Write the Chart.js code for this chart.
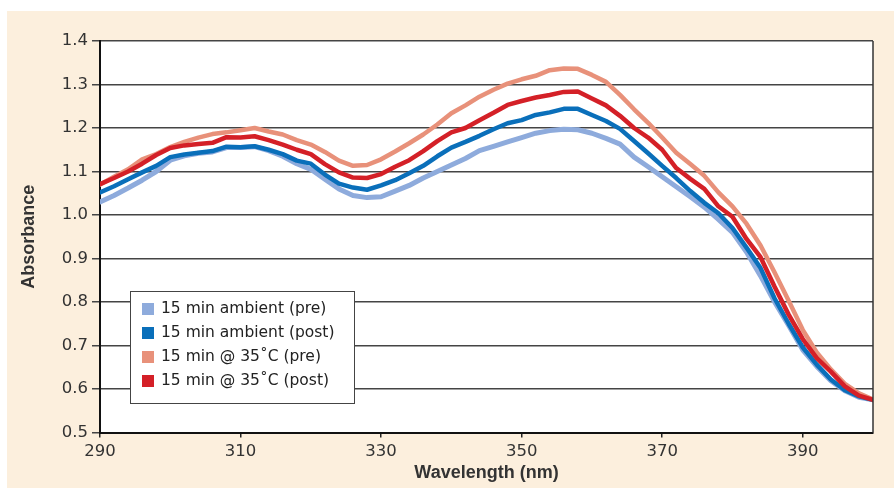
<!DOCTYPE html>
<html>
<head>
<meta charset="utf-8">
<script src="https://cdn.jsdelivr.net/npm/chart.js@4.4.1/dist/chart.umd.min.js"></script>
<style>
  html, body { margin: 0; padding: 0; background: #ffffff; }
  #wrap { width: 894px; height: 490px; }
</style>
</head>
<body>
<div id="wrap"><canvas id="absChart" width="894" height="490"></canvas></div>
<script>
// wavelength (nm) and absorbance values
const wavelengths = [290, 292, 294, 296, 298, 300, 302, 304, 306, 308, 310, 312, 314, 316, 318, 320, 322, 324, 326, 328,
    330, 332, 334, 336, 338, 340, 342, 344, 346, 348, 350, 352, 354, 356, 358, 360, 362, 364, 366, 368,
    370, 372, 374, 376, 378, 380, 382, 384, 386, 388, 390, 392, 394, 396, 398, 400];

const ambientPre = [1.030, 1.045, 1.062, 1.080, 1.100, 1.126, 1.136, 1.142, 1.145, 1.155, 1.155, 1.157, 1.148, 1.135, 1.118, 1.105, 1.082, 1.060, 1.045, 1.040,
    1.042, 1.055, 1.068, 1.085, 1.100, 1.115, 1.130, 1.148, 1.158, 1.168, 1.178, 1.188, 1.194, 1.197, 1.196, 1.188, 1.176, 1.163, 1.133, 1.111,
    1.088, 1.065, 1.042, 1.018, 0.990, 0.960, 0.915, 0.860, 0.800, 0.746, 0.690, 0.652, 0.619, 0.596, 0.581, 0.575];

const ambientPost = [1.052, 1.066, 1.082, 1.098, 1.113, 1.133, 1.139, 1.143, 1.147, 1.157, 1.156, 1.158, 1.150, 1.140, 1.125, 1.118, 1.093, 1.072, 1.063, 1.058,
    1.068, 1.080, 1.096, 1.113, 1.135, 1.155, 1.168, 1.182, 1.197, 1.211, 1.218, 1.230, 1.236, 1.244, 1.244, 1.230, 1.216, 1.198, 1.170, 1.142,
    1.113, 1.085, 1.055, 1.028, 1.004, 0.970, 0.925, 0.878, 0.808, 0.750, 0.696, 0.656, 0.622, 0.597, 0.583, 0.575];

const heatedPre = [1.070, 1.088, 1.105, 1.128, 1.140, 1.156, 1.168, 1.178, 1.186, 1.190, 1.195, 1.200, 1.192, 1.185, 1.172, 1.162, 1.145, 1.125, 1.113, 1.115,
    1.128, 1.146, 1.165, 1.185, 1.208, 1.234, 1.252, 1.272, 1.288, 1.302, 1.312, 1.320, 1.333, 1.337, 1.336, 1.322, 1.306, 1.276, 1.243, 1.212,
    1.178, 1.143, 1.117, 1.090, 1.052, 1.020, 0.980, 0.930, 0.868, 0.803, 0.736, 0.684, 0.645, 0.612, 0.590, 0.576];

const heatedPost = [1.071, 1.085, 1.100, 1.118, 1.138, 1.154, 1.160, 1.163, 1.166, 1.179, 1.178, 1.181, 1.172, 1.162, 1.150, 1.140, 1.117, 1.098, 1.086, 1.085,
    1.094, 1.111, 1.126, 1.147, 1.170, 1.190, 1.200, 1.218, 1.235, 1.253, 1.262, 1.270, 1.276, 1.283, 1.284, 1.268, 1.252, 1.228, 1.200, 1.178,
    1.150, 1.108, 1.083, 1.060, 1.020, 0.996, 0.945, 0.903, 0.835, 0.771, 0.715, 0.671, 0.640, 0.606, 0.585, 0.575];

const seriesLabels = ['15 min ambient (pre)', '15 min ambient (post)', '15 min @ 35\u02DAC (pre)', '15 min @ 35\u02DAC (post)'];
const seriesColors = ['#8eabdc', '#0a6fba', '#e8917a', '#d42027'];
const xTicks = [290, 310, 330, 350, 370, 390];

const TICK_FONT = '"DejaVu Sans", "Liberation Sans", sans-serif';
const TITLE_FONT = '"Liberation Sans", Arial, sans-serif';

const toPoints = (ys) => wavelengths.map((x, i) => ({ x: x, y: ys[i] }));

// beige panel behind everything, white plot area, right frame line
const backdrop = {
    id: 'backdrop',
    beforeDraw(chart) {
        const { ctx, chartArea: a } = chart;
        ctx.save();
        ctx.fillStyle = '#fcefdd';
        ctx.fillRect(7, 11, chart.width - 7, 477);
        ctx.fillStyle = '#ffffff';
        ctx.fillRect(a.left, a.top, a.right - a.left, a.bottom - a.top);
        ctx.restore();
    },
    afterDatasetsDraw(chart) {
        const { ctx, chartArea: a } = chart;
        ctx.save();
        ctx.strokeStyle = '#333';
        ctx.lineWidth = 1.5;
        ctx.beginPath();
        ctx.moveTo(a.right, a.top);
        ctx.lineTo(a.right, a.bottom);
        ctx.stroke();
        ctx.restore();
    }
};

// boxed legend sitting inside the plot
const boxLegend = {
    id: 'boxLegend',
    afterDraw(chart) {
        const ctx = chart.ctx;
        const x0 = 130, y0 = 291, w = 224, h = 112;
        ctx.save();
        ctx.fillStyle = '#ffffff';
        ctx.fillRect(x0, y0, w, h);
        ctx.strokeStyle = '#444';
        ctx.lineWidth = 1;
        ctx.strokeRect(x0 + 0.5, y0 + 0.5, w, h);
        ctx.font = '15.5px ' + TICK_FONT;
        ctx.textBaseline = 'middle';
        seriesLabels.forEach((label, i) => {
            const cy = y0 + 18 + i * 24;
            ctx.fillStyle = seriesColors[i];
            ctx.fillRect(x0 + 12, cy - 6, 12, 12);
            ctx.fillStyle = '#222';
            ctx.fillText(label, x0 + 31, cy);
        });
        ctx.restore();
    }
};

const datasets = [ambientPre, ambientPost, heatedPre, heatedPost].map((ys, i) => ({
    label: seriesLabels[i],
    data: toPoints(ys),
    borderColor: seriesColors[i],
    backgroundColor: seriesColors[i],
    borderWidth: i === 0 ? 5 : 4.5,
    pointRadius: 0,
    tension: 0,
    borderJoinStyle: 'round',
    borderCapStyle: 'round',
    order: 4 - i
}));

new Chart(document.getElementById('absChart'), {
    type: 'line',
    data: { datasets: datasets },
    options: {
        responsive: false,
        animation: false,
        layout: { padding: { left: 0, right: 21, top: 41, bottom: 0 } },
        plugins: {
            legend: { display: false },
            tooltip: { enabled: false }
        },
        scales: {
            x: {
                type: 'linear',
                min: 290,
                max: 400,
                afterBuildTicks: (scale) => {
                    scale.ticks = xTicks.map(v => ({ value: v }));
                },
                afterFit: (scale) => { scale.height = 57.5; },
                ticks: {
                    color: '#333',
                    font: { family: TICK_FONT, size: 16.5 },
                    padding: 4,
                    maxRotation: 0,
                    autoSkip: false
                },
                grid: {
                    drawOnChartArea: false,
                    drawTicks: true,
                    tickLength: 5,
                    color: '#222',
                    lineWidth: 1.5
                },
                border: { color: '#111', width: 2 },
                title: {
                    display: true,
                    text: 'Wavelength (nm)',
                    color: '#333',
                    font: { family: TITLE_FONT, size: 18, weight: 'bold' },
                    padding: { top: 0, bottom: 6 }
                }
            },
            y: {
                min: 0.5,
                max: 1.4,
                afterFit: (scale) => { scale.width = 100; },
                ticks: {
                    stepSize: 0.1,
                    color: '#333',
                    font: { family: TICK_FONT, size: 16.5 },
                    padding: 4,
                    callback: (v) => v.toFixed(1)
                },
                grid: {
                    color: '#444',
                    lineWidth: 1.5,
                    tickLength: 8
                },
                border: { color: '#111', width: 2 },
                title: {
                    display: true,
                    text: 'Absorbance',
                    color: '#333',
                    font: { family: TITLE_FONT, size: 18, weight: 'bold' },
                    padding: { top: 18, bottom: 0 }
                }
            }
        }
    },
    plugins: [backdrop, boxLegend]
});
</script>
</body>
</html>
